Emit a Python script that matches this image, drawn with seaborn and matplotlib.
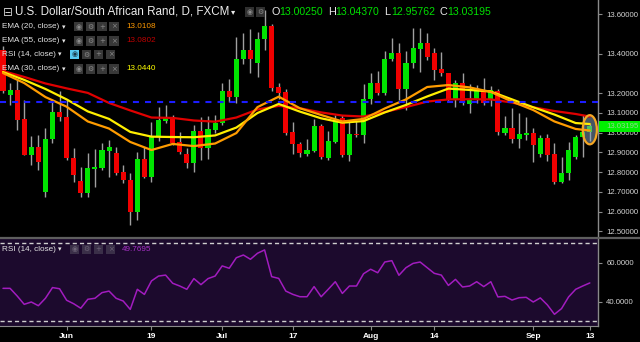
import numpy as np
import pandas as pd
import matplotlib
matplotlib.use("Agg")
import matplotlib.pyplot as plt
from matplotlib.patches import Rectangle, Ellipse
from matplotlib.lines import Line2D
import seaborn as sns

# ---------------- data ----------------
dates = pd.bdate_range("2017-05-19", "2017-09-13")

opens = [13.42, 13.191, 13.216, 13.068, 12.887, 12.929, 12.697, 12.966, 13.107, 13.081,
         12.873, 12.755, 12.692, 12.816, 12.822, 12.907, 12.898, 12.800, 12.760, 12.599,
         12.865, 12.777, 12.980, 13.061, 13.078, 12.951, 12.892, 12.848, 13.010, 12.924,
         13.014, 13.051, 13.212, 13.180, 13.373, 13.420, 13.352, 13.474, 13.542, 13.230,
         13.208, 13.004, 12.943, 12.892, 12.909, 13.034, 12.870, 12.954, 13.073, 12.887,
         12.995, 12.988, 13.170, 13.254, 13.200, 13.373, 13.406, 13.220, 13.352, 13.423,
         13.454, 13.406, 13.322, 13.302, 13.170, 13.254, 13.146, 13.170, 13.217, 13.166,
         13.213, 12.997, 13.022, 12.966, 12.988, 12.997, 12.892, 12.975, 12.892, 12.751,
         12.794, 12.878, 12.980, 13.0025]
highs = [13.44, 13.250, 13.267, 13.166, 12.983, 12.988, 13.024, 13.166, 13.213, 13.166,
         12.921, 12.827, 12.895, 12.917, 12.946, 12.963, 12.929, 12.836, 12.794, 12.904,
         12.929, 13.056, 13.132, 13.141, 13.090, 13.005, 12.921, 13.039, 13.078, 13.085,
         13.090, 13.251, 13.273, 13.487, 13.508, 13.525, 13.513, 13.623, 13.552, 13.254,
         13.220, 13.056, 12.955, 12.966, 13.068, 13.044, 13.010, 13.090, 13.090, 13.056,
         13.064, 13.246, 13.305, 13.315, 13.416, 13.479, 13.454, 13.416, 13.530, 13.530,
         13.508, 13.430, 13.411, 13.300, 13.268, 13.305, 13.247, 13.242, 13.279, 13.237,
         13.220, 13.085, 13.124, 13.102, 13.081, 13.022, 12.988, 12.992, 12.946, 12.875,
         12.954, 12.990, 13.090, 13.0437]
lows = [13.20, 13.140, 13.014, 12.885, 12.836, 12.810, 12.675, 12.950, 13.061, 12.861,
        12.751, 12.675, 12.672, 12.726, 12.810, 12.777, 12.785, 12.743, 12.531, 12.556,
        12.770, 12.751, 12.960, 13.050, 12.940, 12.890, 12.819, 12.802, 12.861, 12.865,
        13.000, 13.040, 13.157, 13.149, 13.347, 13.305, 13.284, 13.420, 13.210, 13.170,
        12.990, 12.892, 12.878, 12.880, 12.900, 12.865, 12.860, 12.950, 12.875, 12.858,
        12.980, 12.946, 13.146, 13.190, 13.190, 13.365, 13.166, 13.115, 13.330, 13.310,
        13.370, 13.268, 13.290, 13.160, 13.129, 13.140, 13.098, 13.150, 13.140, 13.136,
        12.990, 12.990, 12.946, 12.924, 12.963, 12.853, 12.878, 12.856, 12.738, 12.743,
        12.760, 12.866, 12.878, 12.95762]
closes = [13.21, 13.216, 13.064, 12.887, 12.929, 12.850, 12.968, 13.107, 13.081, 12.870,
          12.785, 12.692, 12.822, 12.827, 12.912, 12.929, 12.797, 12.760, 12.599, 12.865,
          12.777, 12.980, 13.064, 13.078, 12.946, 12.900, 12.848, 13.010, 12.924, 13.017,
          13.048, 13.212, 13.183, 13.373, 13.420, 13.373, 13.476, 13.542, 13.225, 13.203,
          13.000, 12.941, 12.895, 12.912, 13.034, 12.878, 12.958, 13.064, 12.887, 12.993,
          12.990, 13.170, 13.254, 13.200, 13.373, 13.406, 13.220, 13.355, 13.428, 13.454,
          13.386, 13.318, 13.302, 13.170, 13.254, 13.149, 13.170, 13.220, 13.152, 13.217,
          13.005, 13.022, 12.966, 12.992, 12.997, 12.938, 12.975, 12.887, 12.751, 12.794,
          12.912, 12.980, 13.005, 13.03195]

ema_idx = list(range(0, 82, 3)) + [83]
ema20 = [13.303, 13.252, 13.181, 13.132, 13.057, 13.021, 12.953, 12.912, 12.943, 12.932,
         12.945, 12.998, 13.130, 13.183, 13.124, 13.090, 13.057, 13.070, 13.123, 13.169,
         13.232, 13.242, 13.230, 13.207, 13.158, 13.115, 13.057, 13.019, 13.011]
ema30 = [13.308, 13.268, 13.222, 13.169, 13.108, 13.070, 13.004, 12.980, 12.978, 12.977,
         12.986, 13.026, 13.100, 13.146, 13.107, 13.073, 13.051, 13.059, 13.103, 13.141,
         13.184, 13.224, 13.217, 13.209, 13.169, 13.129, 13.092, 13.049, 13.044]
ema55 = [13.313, 13.283, 13.250, 13.225, 13.202, 13.151, 13.113, 13.077, 13.075, 13.062,
         13.056, 13.077, 13.118, 13.136, 13.124, 13.103, 13.087, 13.082, 13.105, 13.130,
         13.158, 13.169, 13.170, 13.169, 13.153, 13.129, 13.110, 13.095, 13.082]

rsi = [47.0, 47.0, 43.1, 38.8, 40.0, 38.1, 41.9, 47.4, 46.8, 40.9,
       39.1, 36.8, 41.4, 41.9, 44.8, 45.6, 41.9, 40.5, 36.2, 46.5,
       43.9, 50.8, 53.3, 53.8, 49.6, 48.2, 46.5, 52.0, 48.9, 52.0,
       53.3, 58.5, 57.3, 62.7, 64.1, 61.9, 65.0, 66.7, 53.0, 52.1,
       45.6, 43.9, 42.7, 42.7, 47.9, 42.7, 46.5, 50.4, 44.4, 48.2,
       48.2, 54.5, 56.8, 55.0, 60.5, 61.2, 53.7, 57.6, 59.8, 60.5,
       57.6, 54.7, 53.8, 48.5, 51.6, 47.7, 48.2, 50.4, 47.9, 50.4,
       42.6, 42.9, 41.0, 42.2, 42.4, 40.0, 42.1, 38.5, 33.7, 36.6,
       42.6, 46.5, 48.2, 49.77]

tick_dates = ["2017-06-01", "2017-06-19", "2017-07-03", "2017-07-17",
              "2017-08-01", "2017-08-14", "2017-09-01", "2017-09-13"]
tick_labels = ["Jun", "19", "Jul", "17", "Aug", "14", "Sep", "13"]
price_ticks = [13.6, 13.4, 13.2, 13.1, 13.0, 12.9, 12.8, 12.7, 12.6, 12.5]
rsi_ticks = [60, 40]
rsi_bands = [70, 30]
resistance = 13.1575
title = "U.S. Dollar/South African Rand, D, FXCM"
ohlc_letters = ["O", "H", "L", "C"]
ohlc_values = ["13.00250", "13.04370", "12.95762", "13.03195"]
legend_names = ["EMA (20, close)", "EMA (55, close)", "RSI (14, close)", "EMA (30, close)"]
legend_values = ["13.0108", "13.0802", "", "13.0440"]
rsi_value = "49.7695"
last_price = 13.03195

# ---------------- style ----------------
sns.set_style("dark")
plt.rcParams['font.family'] = ['Liberation Sans', 'DejaVu Sans']

W, H = 640, 342
def fx(x):
    return x / W
def fy(y):
    return 1 - y / H

fig = plt.figure(figsize=(6.4, 3.42), dpi=100, facecolor='black')
ax = fig.add_axes([0, fy(237), fx(598), 237 / H])
axr = fig.add_axes([0, fy(326), fx(598), (326 - 238) / H])

for a in (ax, axr):
    for s in ['top', 'left', 'bottom', 'right']:
        a.spines[s].set_visible(False)
    a.spines['right'].set_visible(True)
    a.spines['right'].set_color('#8a8a8a')
    a.spines['right'].set_linewidth(1.0)
    a.grid(False)
ax.set_facecolor('black')
axr.set_facecolor('#1c0a2d')

x = np.arange(len(opens))
o = np.array(opens); h = np.array(highs); l = np.array(lows); c = np.array(closes)
up = c >= o
bb = np.minimum(o, c)
bh = np.maximum(np.abs(c - o), 0.005)

ax.vlines(x, l, h, color='#a0a0a0', lw=1.0, zorder=2)
ax.bar(x[up], bh[up], bottom=bb[up], width=0.72, color='#00e400', lw=0, zorder=3)
ax.bar(x[~up], bh[~up], bottom=bb[~up], width=0.72, color='#f00000', lw=0, zorder=3)

# highlight ellipse on the last candle
ax.add_patch(Ellipse((83, 13.015), 2.0, 0.148, facecolor=(0.55, 0.66, 0.78, 0.5),
                     edgecolor='none', zorder=4))

ema_df = pd.DataFrame({
    'x': ema_idx * 3,
    'value': ema55 + ema30 + ema20,
    'series': ['EMA55'] * len(ema55) + ['EMA30'] * len(ema30) + ['EMA20'] * len(ema20),
})
sns.lineplot(data=ema_df, x='x', y='value', hue='series',
             hue_order=['EMA55', 'EMA30', 'EMA20'],
             palette={'EMA55': '#e00000', 'EMA30': '#ffee00', 'EMA20': '#ff9c00'},
             lw=1.6, legend=False, ax=ax, zorder=5)

ax.axhline(resistance, color='#1c1cff', lw=1.5, dashes=(2.9, 2.9), zorder=6)
ax.add_patch(Ellipse((83, 13.015), 2.0, 0.148, facecolor='none',
                     edgecolor='#f5a623', lw=1.6, zorder=7))

ax.set_xlim(-0.424, 84.16)
ax.set_ylim(12.47056, 13.6736)
ax.set_xticks([])
ax.set_xlabel(''); ax.set_ylabel('')
ax.yaxis.tick_right()
ax.set_yticks(price_ticks)
ax.set_yticklabels([f"{p:.5f}" for p in price_ticks])
ax.tick_params(axis='y', colors='#8a8a8a', labelcolor='#d4d4d4', labelsize=5.6,
               length=3, width=0.8, pad=3, right=True, left=False)

# RSI panel
sns.lineplot(x=x, y=rsi, color='#a21cbf', lw=1.1, ax=axr, zorder=4)
for b in rsi_bands:
    axr.axhline(b, color='#cfcfcf', lw=1.0, dashes=(3, 2.2), zorder=3)
axr.set_xlim(-0.424, 84.16)
axr.set_ylim(27.69, 72.82)
axr.set_xlabel(''); axr.set_ylabel('')
axr.yaxis.tick_right()
axr.set_yticks(rsi_ticks)
axr.set_yticklabels([f"{v:.4f}" for v in rsi_ticks])
axr.tick_params(axis='y', colors='#8a8a8a', labelcolor='#d4d4d4', labelsize=5.6,
                length=3, width=0.8, pad=3, right=True, left=False)
tick_pos = [dates.get_loc(pd.Timestamp(d)) for d in tick_dates]
axr.spines['bottom'].set_visible(True)
axr.spines['bottom'].set_color('#8a8a8a')
axr.set_xticks(tick_pos)
axr.set_xticklabels(tick_labels)
axr.tick_params(axis='x', colors='#8a8a8a', labelcolor='white', labelsize=6,
                length=3, width=0.8, pad=2, bottom=True)
for t in axr.get_xticklabels():
    t.set_fontweight('bold')

# separator between panels
fig.add_artist(Line2D([0, 1], [fy(238), fy(238)], transform=fig.transFigure,
                      color='#5e5e5e', lw=1.6))

# current price tag
fig.add_artist(Rectangle((fx(599), fy(131.6)), fx(41), 10.4 / H, transform=fig.transFigure,
                         facecolor='#00f000', edgecolor='none', zorder=5))
fig.text(fx(606), fy(126.4), f"{last_price:.5f}", color='#8fd88f', fontsize=5.6,
         va='center', ha='left', zorder=6)

def ftext(xp, yp, s, color='#e4e4e4', size=5.8, **kw):
    fig.text(fx(xp), fy(yp), s, color=color, fontsize=size, va='center', ha='left', **kw)

def icon(xp, yc, fc='#383838', glyph='', gc='#8c8c8c', w=9.3, hh=9.6):
    fig.add_artist(Rectangle((fx(xp), fy(yc + hh / 2)), w / W, hh / H,
                             transform=fig.transFigure, facecolor=fc,
                             edgecolor='none', zorder=5))
    if glyph:
        fig.text(fx(xp + w / 2), fy(yc), glyph, color=gc, fontsize=5, ha='center',
                 va='center', zorder=6, family=['DejaVu Sans'])

# title row
ftext(2.5, 12, "\u229f", color='#d0d0d0', size=8.5, family=['DejaVu Sans'])
ftext(15, 12, title, color='#ececec', size=8.4)
ftext(231, 12, "\u25be", color='#e8e8e8', size=6, family=['DejaVu Sans'])
icon(245, 12, fc='#303030', glyph='\u25c9')
icon(256, 12, fc='#303030', glyph='\u2699')
for i, (let, val) in enumerate(zip(ohlc_letters, ohlc_values)):
    x0 = 272 + i * 56
    ftext(x0, 12, let, color='#e8e8e8', size=7.8)
    ftext(x0 + 7, 12, val, color='#00e000', size=7.6)

# legend rows
rows_y = [26.6, 41, 54.4, 68.8]
legend_colors = ['#ff9900', '#c00000', None, '#ffff00']
for yr, name, val, col in zip(rows_y, legend_names, legend_values, legend_colors):
    ftext(2, yr, name, size=5.9)
    if name.startswith('RSI'):
        ftext(58, yr, "\u25be", size=5, family=['DejaVu Sans'])
        xs = [70, 81.7, 94, 106]
        icon(xs[0], yr, fc='#56c8f0', glyph='\u25c9', gc='#1a3a4a')
        icon(xs[1], yr, glyph='\u2699')
        icon(xs[2], yr, glyph='+')
        icon(xs[3], yr, glyph='\u00d7')
    else:
        ftext(62, yr, "\u25be", size=5, family=['DejaVu Sans'])
        xs = [74, 85.7, 97.3, 109.3]
        for xi, g in zip(xs, ['\u25c9', '\u2699', '+', '\u00d7']):
            icon(xi, yr, glyph=g)
        ftext(126, yr, val, color=col, size=5.9)

# RSI panel legend
ry = 249.3
ftext(2, ry, legend_names[2], size=5.9)
ftext(58, ry, "\u25be", size=5, family=['DejaVu Sans'])
for xi, g in zip([70, 81.7, 94, 106], ['\u25c9', '\u2699', '+', '\u00d7']):
    icon(xi, ry, fc='#3a2f48', glyph=g, gc='#6e6478')
ftext(122, ry, rsi_value, color='#a832c8', size=5.9)

fig.savefig('out.png', dpi=100, facecolor='black')
